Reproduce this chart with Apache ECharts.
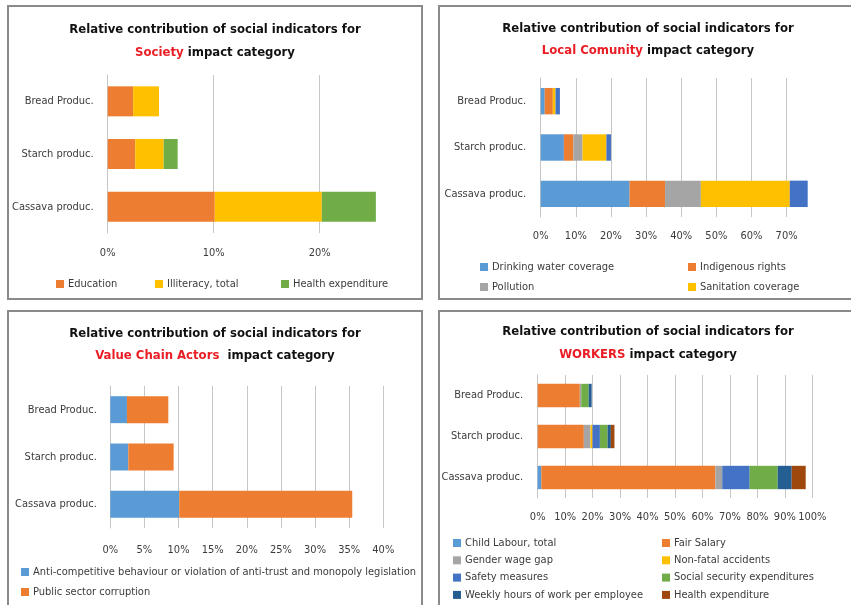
<!DOCTYPE html>
<html>
<head>
<meta charset="utf-8">
<script src="https://cdn.jsdelivr.net/npm/echarts@6/dist/echarts.min.js"></script>
<style>
html, body { margin: 0; width: 851px; height: 605px; overflow: hidden; background: #fff; }
.panel { position: absolute; border: 2px solid #8a8a8a; }
</style>
</head>
<body>
<div id="society" class="panel" style="left:7px;top:5px;width:412px;height:291px"></div>
<div id="community" class="panel" style="left:438px;top:5px;width:416px;height:291px"></div>
<div id="actors" class="panel" style="left:7px;top:310px;width:412px;height:300px"></div>
<div id="workers" class="panel" style="left:438px;top:310px;width:416px;height:300px"></div>
<script>
// categories, top to bottom
const categories = ['Bread Produc.', 'Starch produc.', 'Cassava produc.']

// Society (%)
const societyNames = ['Education', 'Illiteracy, total', 'Health expenditure']
const societyEducation = [2.4, 2.6, 10.1]
const societyIlliteracy = [2.44, 2.68, 10.1]
const societyHealth = [0, 1.32, 5.1]
const societyTicks = [0, 10, 20]

// Local Comunity (%)
const communityNames = ['Drinking water coverage', 'Indigenous rights', 'Pollution', 'Sanitation coverage', 'Other']
const communityWater = [1.15, 6.6, 25.3]
const communityIndigenous = [2.3, 2.7, 10.1]
const communityPollution = [0, 2.6, 10.2]
const communitySanitation = [0.77, 6.8, 25.3]
const communityOther = [1.25, 1.3, 5.1]
const communityTicks = [0, 10, 20, 30, 40, 50, 60, 70]

// Value Chain Actors (%)
const actorsNames = ['Anti-competitive behaviour or violation of anti-trust and monopoly legislation', 'Public sector corruption']
const actorsAntiTrust = [2.44, 2.64, 10.1]
const actorsCorruption = [6.06, 6.64, 25.35]
const actorsTicks = [0, 5, 10, 15, 20, 25, 30, 35, 40]

// Workers (%)
const workersNames = ['Child Labour, total', 'Fair Salary', 'Gender wage gap', 'Non-fatal accidents',
  'Safety measures', 'Social security expenditures', 'Weekly hours of work per employee', 'Health expenditure']
const workersChild = [0, 0, 1.3]
const workersSalary = [15.35, 16.8, 63.4]
const workersGender = [0.5, 2.45, 2.5]
const workersAccidents = [0, 0.7, 0]
const workersSafety = [0, 2.7, 10.0]
const workersSocial = [2.7, 2.8, 10.2]
const workersHours = [1.1, 1.2, 5.1]
const workersHealth = [0, 1.3, 5.1]
const workersTicks = [0, 10, 20, 30, 40, 50, 60, 70, 80, 90, 100]

const FONT = '"DejaVu Sans Condensed", "Liberation Sans Narrow", sans-serif'
const TEXT = '#3b3b3b'
const GRID_LINE = '#c6c6c6'

function drawPanel(id, cfg) {
  const chart = echarts.init(document.getElementById(id))
  const ticks = cfg.ticks
  const step = ticks[1] - ticks[0]

  const series = cfg.series.map((s) => ({
    name: s.name,
    type: 'bar',
    stack: 'total',
    barCategoryGap: '43%',
    itemStyle: { color: s.color },
    data: s.data
  }))

  const legend = cfg.legends.map((l) => ({
    data: l.names,
    orient: 'vertical',
    left: l.left,
    top: l.top,
    padding: 0,
    itemGap: l.gap,
    itemWidth: 8,
    itemHeight: 8,
    icon: 'rect',
    selectedMode: false,
    textStyle: { fontFamily: FONT, fontSize: 11, color: TEXT, lineHeight: l.lineHeight, padding: [0, 0, 0, -1] }
  }))

  const option = {
    animation: false,
    title: {
      text: '{b|Relative contribution of social indicators for}\n{r|' + cfg.word + '}{b|' + cfg.rest + '}',
      left: 'center',
      top: cfg.titleTop,
      padding: 0,
      textStyle: {
        rich: {
          b: { fontFamily: FONT, fontWeight: 'bold', fontSize: 13, color: '#111', lineHeight: cfg.titleLh },
          r: { fontFamily: FONT, fontWeight: 'bold', fontSize: 13, color: '#ea1d25', lineHeight: cfg.titleLh }
        }
      }
    },
    legend,
    grid: Object.assign({ outerBoundsMode: 'none', containLabel: false }, cfg.grid),
    xAxis: {
      type: 'value',
      min: ticks[0],
      max: cfg.max,
      interval: step,
      axisLine: { show: false },
      axisTick: { show: false },
      splitLine: { show: true, showMaxLine: !cfg.hideMax, lineStyle: { color: GRID_LINE, width: 1 } },
      axisLabel: {
        margin: cfg.xMargin,
        showMaxLabel: !cfg.hideMax,
        fontFamily: FONT,
        fontSize: 11,
        color: TEXT,
        formatter: (v) => (ticks.indexOf(v) >= 0 ? v + '%' : '')
      }
    },
    yAxis: {
      type: 'category',
      data: categories,
      inverse: true,
      axisLine: { show: true, lineStyle: { color: GRID_LINE, width: 1 } },
      axisTick: { show: false },
      axisLabel: { margin: cfg.yMargin, fontFamily: FONT, fontSize: 11, color: TEXT }
    },
    series
  }

  chart.setOption(option)
}

drawPanel('society', {
  word: 'Society',
  rest: ' impact category',
  titleTop: 11.5,
  titleLh: 23,
  grid: { left: 98.7, top: 68, width: 318, height: 158 },
  ticks: societyTicks,
  max: 30,
  hideMax: true,
  xMargin: 15,
  yMargin: 14,
  series: [
    { name: societyNames[0], data: societyEducation, color: '#ED7D31' },
    { name: societyNames[1], data: societyIlliteracy, color: '#FFC000' },
    { name: societyNames[2], data: societyHealth, color: '#70AD47' }
  ],
  legends: [
    { names: [societyNames[0]], left: 47, top: 269, gap: 4, lineHeight: 16 },
    { names: [societyNames[1]], left: 146, top: 269, gap: 4, lineHeight: 16 },
    { names: [societyNames[2]], left: 272, top: 269, gap: 4, lineHeight: 16 }
  ]
})

drawPanel('community', {
  word: 'Local Comunity',
  rest: ' impact category',
  titleTop: 10.3,
  titleLh: 22,
  grid: { left: 100.7, top: 71, width: 267, height: 139 },
  ticks: communityTicks,
  max: 76,
  hideMax: true,
  xMargin: 14,
  yMargin: 14.5,
  series: [
    { name: communityNames[0], data: communityWater, color: '#5B9BD5' },
    { name: communityNames[1], data: communityIndigenous, color: '#ED7D31' },
    { name: communityNames[2], data: communityPollution, color: '#A5A5A5' },
    { name: communityNames[3], data: communitySanitation, color: '#FFC000' },
    { name: communityNames[4], data: communityOther, color: '#4472C4' }
  ],
  legends: [
    { names: [communityNames[0], communityNames[2]], left: 40, top: 252, gap: 4, lineHeight: 16 },
    { names: [communityNames[1], communityNames[3]], left: 248, top: 252, gap: 4, lineHeight: 16 }
  ]
})

drawPanel('actors', {
  word: 'Value Chain Actors',
  rest: '  impact category',
  titleTop: 11,
  titleLh: 22,
  grid: { left: 101.3, top: 74, width: 273, height: 142 },
  ticks: actorsTicks,
  max: 40,
  hideMax: false,
  xMargin: 17,
  yMargin: 13.5,
  series: [
    { name: actorsNames[0], data: actorsAntiTrust, color: '#5B9BD5' },
    { name: actorsNames[1], data: actorsCorruption, color: '#ED7D31' }
  ],
  legends: [
    { names: actorsNames, left: 12, top: 252, gap: 4, lineHeight: 16 }
  ]
})

drawPanel('workers', {
  word: 'WORKERS',
  rest: ' impact category',
  titleTop: 8.5,
  titleLh: 23,
  grid: { left: 97.7, top: 63, width: 274.6, height: 123 },
  ticks: workersTicks,
  max: 100,
  hideMax: false,
  xMargin: 14,
  yMargin: 14.5,
  series: [
    { name: workersNames[0], data: workersChild, color: '#5B9BD5' },
    { name: workersNames[1], data: workersSalary, color: '#ED7D31' },
    { name: workersNames[2], data: workersGender, color: '#A5A5A5' },
    { name: workersNames[3], data: workersAccidents, color: '#FFC000' },
    { name: workersNames[4], data: workersSafety, color: '#4472C4' },
    { name: workersNames[5], data: workersSocial, color: '#70AD47' },
    { name: workersNames[6], data: workersHours, color: '#255E91' },
    { name: workersNames[7], data: workersHealth, color: '#9E480E' }
  ],
  legends: [
    { names: [workersNames[0], workersNames[2], workersNames[4], workersNames[6]], left: 13, top: 224, gap: 3.3, lineHeight: 14 },
    { names: [workersNames[1], workersNames[3], workersNames[5], workersNames[7]], left: 222, top: 224, gap: 3.3, lineHeight: 14 }
  ]
})
</script>
</body>
</html>
